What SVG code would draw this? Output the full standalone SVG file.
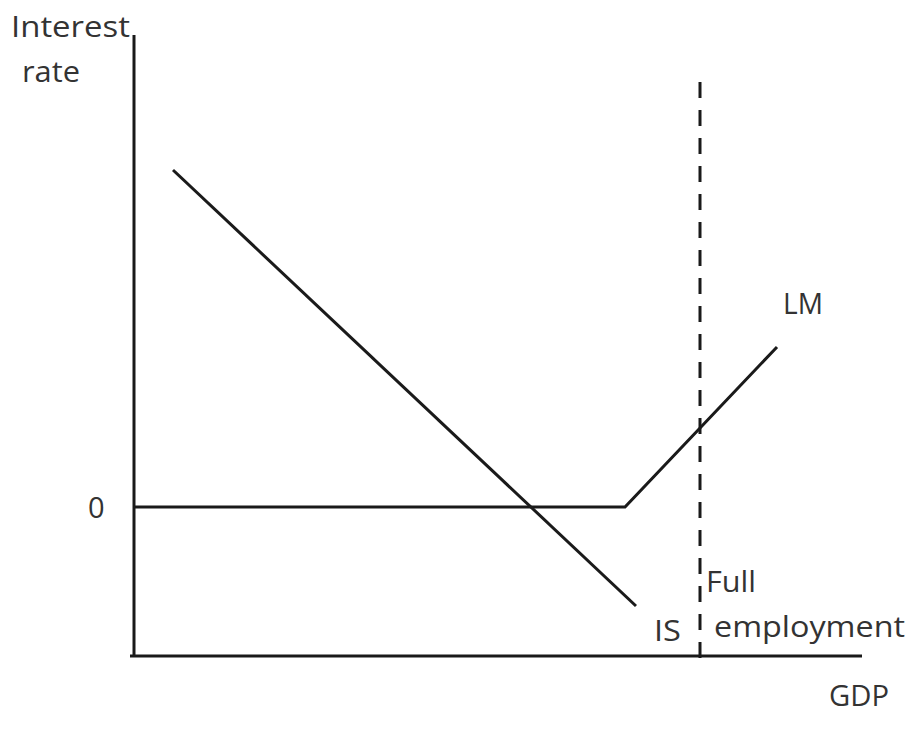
<svg xmlns="http://www.w3.org/2000/svg" width="910" height="729" viewBox="0 0 910 729">
<style>
.ln{stroke:#1a1a1a;stroke-width:3;fill:none;stroke-linecap:butt}
.dash{stroke:#1a1a1a;stroke-width:3;fill:none;stroke-dasharray:16 12}
text{font-family:"Open Sans","Liberation Sans",sans-serif;font-size:29px;fill:#333}
</style>
<rect width="910" height="729" fill="#fff"/>
<g id="axes">
<line class="ln" x1="134" y1="35" x2="134" y2="656"/>
<line class="ln" x1="130" y1="656" x2="862" y2="656"/>
</g>
<g id="connectors">
<polyline id="LM" class="ln" points="134,507 625,507 777,347"/>
<line id="IS" class="ln" x1="173" y1="170" x2="636" y2="606"/>
<line id="fullemp" class="dash" x1="700" y1="82" x2="700" y2="666"/>
</g>
<g id="labels">
<text x="11" y="37" textLength="119" lengthAdjust="spacingAndGlyphs">Interest</text>
<text x="22" y="82" textLength="58" lengthAdjust="spacingAndGlyphs">rate</text>
<text x="88" y="518">0</text>
<text x="783" y="314" textLength="40" lengthAdjust="spacingAndGlyphs">LM</text>
<text x="654" y="641" textLength="27" lengthAdjust="spacingAndGlyphs">IS</text>
<text x="706" y="592" textLength="50" lengthAdjust="spacingAndGlyphs">Full</text>
<text x="714" y="637" textLength="191" lengthAdjust="spacingAndGlyphs">employment</text>
<text x="829" y="706" textLength="60" lengthAdjust="spacingAndGlyphs">GDP</text>
</g>
</svg>
